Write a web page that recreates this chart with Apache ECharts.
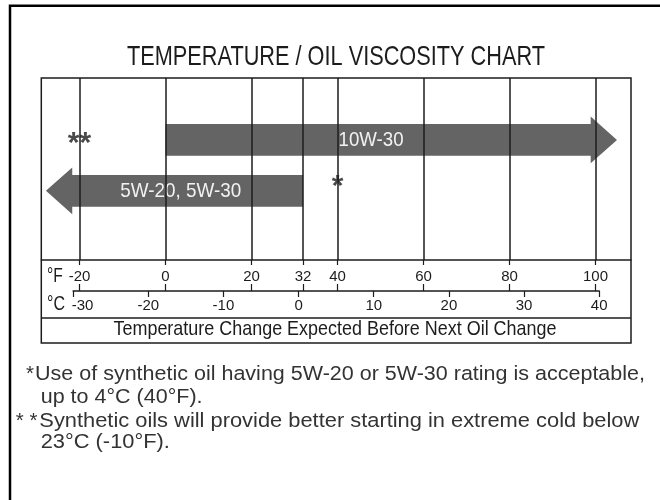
<!DOCTYPE html>
<html>
<head>
<meta charset="utf-8">
<script src="https://cdn.jsdelivr.net/npm/echarts@6/dist/echarts.min.js"></script>
<style>
html,body{margin:0;padding:0;background:#fff;}
#chart{width:660px;height:500px;}
</style>
</head>
<body>
<div id="chart"></div>
<script>
// ---------------- data ----------------
const TITLE = 'TEMPERATURE / OIL VISCOSITY CHART';
const AXIS_CAPTION = 'Temperature Change Expected Before Next Oil Change';
const F_TICKS = [-20, 0, 20, 32, 40, 60, 80, 100];
const C_TICKS = [-30, -20, -10, 0, 10, 20, 30, 40];
const F_RANGE = [-28.88, 108.26];
const C_RANGE = [-30, 40];
const OILS = ['10W-30', '5W-20, 5W-30'];
const OIL_FROM_F = [0, 32];
const OIL_TO_F = [105, -27.8];
const OIL_LANE = [66, 38];
const NOTE_MARKS = ['**', '*'];
const NOTE_F = [-20, 40];
const NOTE_LANE = [68, 44];
const NOTE_1 = ['*', 'Use of synthetic oil having 5W-20 or 5W-30 rating is acceptable,', 'up to 4°C (40°F).'];
const NOTE_2 = ['* *', 'Synthetic oils will provide better starting in extreme cold below', '23°C (-10°F).'];

// ---------------- helpers ----------------
const FONT = "'Liberation Sans', Arial, Helvetica, sans-serif";
const mctx = document.createElement('canvas').getContext('2d');
function fit(text, size, target) {
  mctx.font = size + 'px ' + FONT;
  return target / mctx.measureText(text).width;
}
const INK = '#1c1c1c';
const BOX = {l: 41.3, r: 631, t: 78, b: 343};
const C_BOX = {l: 73.1, r: 599.2};
const AX_F_Y = 260, AX_C_Y = 291, CAP_Y = 318;
const BODY_H = 15.8, HEAD_H = 23.3, HEAD_LEN = 26.3;
const ARROW_TEXT_W = [65, 121];
const NOTE_SIZE = 20.5;

function txt(x, y, text, size, opts) {
  opts = opts || {};
  return {
    type: 'text', x: x, y: y, scaleX: opts.scaleX || 1, silent: true,
    style: {text: text, fill: opts.fill || INK, fontSize: size, fontFamily: FONT,
      align: opts.align || 'left', verticalAlign: 'middle'}
  };
}

const s1 = fit(NOTE_1[1], NOTE_SIZE, 610);
const s2 = fit(NOTE_2[1], NOTE_SIZE, 600);

const graphics = [
  {type: 'rect', silent: true, shape: {x: 10, y: 5.7, width: 700, height: 600},
    style: {fill: null, stroke: '#000', lineWidth: 2.5}},
  {type: 'rect', silent: true, shape: {x: BOX.l, y: BOX.t, width: BOX.r - BOX.l, height: BOX.b - BOX.t},
    style: {fill: null, stroke: INK, lineWidth: 1.5}},
  {type: 'line', silent: true, shape: {x1: BOX.l, y1: CAP_Y, x2: BOX.r, y2: CAP_Y},
    style: {stroke: INK, lineWidth: 1.5}},
  txt(336, 57.3, TITLE, 28, {align: 'center', scaleX: fit(TITLE, 28, 418)}),
  txt(335, 329.2, AXIS_CAPTION, 21, {align: 'center', scaleX: fit(AXIS_CAPTION, 21, 443)}),
  txt(47, 276.7, '°F', 19.5, {scaleX: 0.8}),
  txt(47, 304.2, '°C', 20.5, {scaleX: 0.78}),
  txt(34, 374.5, NOTE_1[0], NOTE_SIZE, {align: 'right', fill: '#333'}),
  txt(35, 374.5, NOTE_1[1], NOTE_SIZE, {scaleX: s1, fill: '#333'}),
  txt(40.7, 397.5, NOTE_1[2], NOTE_SIZE, {scaleX: s1, fill: '#333'}),
  txt(37.5, 421, NOTE_2[0], NOTE_SIZE, {align: 'right', fill: '#333'}),
  txt(39.3, 421, NOTE_2[1], NOTE_SIZE, {scaleX: s2, fill: '#333'}),
  txt(40.7, 442.5, NOTE_2[2], NOTE_SIZE, {scaleX: s2, fill: '#333'})
];

const labelFont = {fontSize: 15, fontFamily: FONT, color: INK};

const chart = echarts.init(document.getElementById('chart'), null, {renderer: 'canvas'});
const option = {
  animation: false,
  backgroundColor: '#fff',
  graphic: {elements: graphics},
  grid: [
    {left: BOX.l, right: 660 - BOX.r, top: BOX.t, height: AX_F_Y - BOX.t},
    {left: BOX.l, right: 660 - BOX.r, top: AX_C_Y - 20, height: 20},
    {left: C_BOX.l, right: 660 - C_BOX.r, top: AX_C_Y - 20, height: 20}
  ],
  xAxis: [
    {gridIndex: 0, type: 'value', min: F_RANGE[0], max: F_RANGE[1], position: 'bottom',
      axisLine: {show: true, lineStyle: {color: INK, width: 1.5}},
      axisTick: {show: true, length: 5, customValues: F_TICKS, lineStyle: {color: INK, width: 1.2}},
      axisLabel: Object.assign({show: true, customValues: F_TICKS, margin: 9}, labelFont),
      splitLine: {show: false}},
    {gridIndex: 1, type: 'value', min: F_RANGE[0], max: F_RANGE[1], position: 'bottom',
      axisLine: {show: false},
      axisTick: {show: true, inside: true, length: 7, customValues: F_TICKS, lineStyle: {color: INK, width: 1.2}},
      axisLabel: {show: false}, splitLine: {show: false}},
    {gridIndex: 2, type: 'value', min: C_RANGE[0], max: C_RANGE[1], interval: 10, position: 'bottom',
      axisLine: {show: true, lineStyle: {color: INK, width: 1.5}},
      axisTick: {show: true, length: 6, lineStyle: {color: INK, width: 1.2}},
      axisLabel: Object.assign({show: true, margin: 7, showMinLabel: true, showMaxLabel: true,
        formatter: v => C_TICKS.indexOf(v) < 0 ? '' : (v === C_TICKS[0] ? '{first|' + v + '}' : String(v)),
        rich: {first: Object.assign({padding: [0, 0, 0, 19]}, labelFont)}}, labelFont),
      splitLine: {show: false}}
  ],
  yAxis: [
    {gridIndex: 0, type: 'value', min: 0, max: 100, show: false},
    {gridIndex: 1, type: 'value', min: 0, max: 1, show: false},
    {gridIndex: 2, type: 'value', min: 0, max: 1, show: false}
  ],
  series: [
    {type: 'line', xAxisIndex: 0, yAxisIndex: 0, data: [], silent: true,
      markLine: {silent: true, symbol: ['none', 'none'], label: {show: false},
        lineStyle: {color: INK, width: 1.5, type: 'solid'},
        emphasis: {disabled: true},
        data: F_TICKS.map(v => ({xAxis: v}))}},
    {type: 'custom', xAxisIndex: 0, yAxisIndex: 0, silent: true, clip: false,
      data: OILS.map((n, i) => [OIL_FROM_F[i], OIL_TO_F[i], OIL_LANE[i]]),
      encode: {x: [0, 1], y: 2},
      renderItem: function (params, api) {
        const a = api.coord([api.value(0), api.value(2)]);
        const b = api.coord([api.value(1), api.value(2)]);
        const cy = a[1];
        const dir = b[0] > a[0] ? 1 : -1;
        const hb = b[0] - dir * HEAD_LEN;
        const pts = [[a[0], cy - BODY_H], [hb, cy - BODY_H], [hb, cy - HEAD_H], [b[0], cy],
          [hb, cy + HEAD_H], [hb, cy + BODY_H], [a[0], cy + BODY_H]];
        const name = OILS[params.dataIndex];
        return {type: 'group', children: [
          {type: 'polygon', shape: {points: pts}, style: {fill: '#646464'}},
          {type: 'text', x: (a[0] + hb) / 2 - 7, y: cy + 0.5,
            scaleX: fit(name, 21, ARROW_TEXT_W[params.dataIndex]),
            style: {text: name, fill: '#f2f2f2', fontSize: 21, fontFamily: FONT,
              align: 'center', verticalAlign: 'middle'}}
        ]};
      }},
    {type: 'scatter', xAxisIndex: 0, yAxisIndex: 0, silent: true,
      data: NOTE_MARKS.map((t, i) => ({name: t, value: [NOTE_F[i], NOTE_LANE[i]]})),
      symbol: 'rect',
      symbolSize: (v, p) => p.name.length > 1 ? [28, 17] : [16, 21],
      itemStyle: {color: '#fff'},
      label: {show: true, position: 'inside', formatter: '{b}', fontSize: 30, fontWeight: 'bold',
        fontFamily: FONT, color: INK, offset: [0, 7]},
      emphasis: {disabled: true}}
  ]
};
chart.setOption(option);
</script>
</body>
</html>
